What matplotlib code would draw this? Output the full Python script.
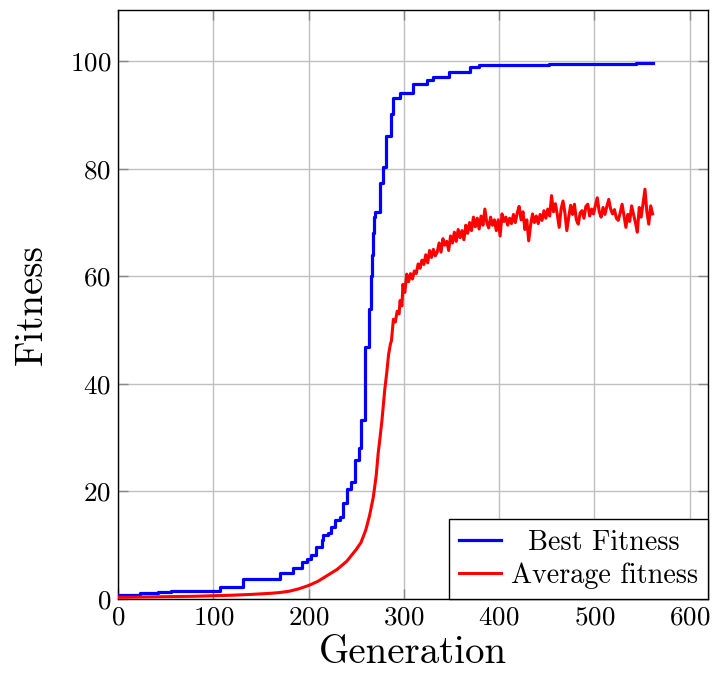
import matplotlib
matplotlib.use("Agg")
import matplotlib.pyplot as plt

# ---------------- data ----------------
best_gen = [0, 23, 42, 56, 107, 131, 170, 184, 193, 198, 203, 208, 214, 215, 220,
            224, 228, 233, 236, 240, 245, 249, 253, 255, 259, 263, 265, 267, 268,
            269, 270, 275, 278, 281, 286, 289, 296, 310, 324, 331, 347, 369, 379,
            452, 502, 544, 561]
best_val = [0.7, 1.05, 1.25, 1.55, 2.2, 3.7, 4.8, 5.7, 6.9, 7.5, 8.2, 9.7, 10.9, 11.9, 12.3,
            13.4, 14.7, 15.3, 17.8, 20.5, 21.8, 25.8, 28.0, 33.2, 46.9, 54.0, 60.0, 64.0, 68.0,
            71.0, 72.0, 77.3, 80.4, 86.0, 90.1, 93.2, 94.0, 95.8, 96.5, 97.0, 97.9, 98.9, 99.3,
            99.4, 99.55, 99.7, 99.7]

avg_gen = [0, 20, 40, 60, 80, 100, 120, 140, 150, 160, 170, 180, 190, 200, 210, 220, 230,
           240, 250, 255, 260, 264, 268, 271, 273, 275, 277, 280, 282, 284, 286, 287, 289,
           291, 293, 295, 296, 298, 299, 301, 303, 305, 307, 309, 311, 313, 315, 317, 319,
           321, 323, 325, 327, 329, 331, 333, 335, 337, 339, 341, 343, 345, 347, 349, 351,
           353, 355, 357, 359, 361, 363, 365, 367, 369, 371, 373, 375, 377, 379, 381, 383,
           385, 387, 389, 391, 393, 395, 397, 399, 401, 403, 405, 407, 409, 411, 413, 415,
           417, 419, 421, 423, 425, 427, 429, 431, 433, 435, 437, 439, 441, 443, 445, 447,
           449, 451, 453, 455, 457, 459, 461, 463, 465, 467, 469, 471, 473, 475, 477, 479,
           481, 483, 485, 487, 489, 491, 493, 495, 497, 499, 501, 503, 505, 507, 509, 511,
           513, 515, 517, 519, 521, 523, 525, 527, 529, 531, 533, 535, 537, 539, 541, 543,
           545, 547, 549, 551, 553, 555, 557, 559, 561]
avg_val = [0.3, 0.35, 0.4, 0.45, 0.5, 0.6, 0.7, 0.85, 0.95, 1.05, 1.2, 1.45, 1.9, 2.5, 3.3,
           4.4, 5.5, 7.0, 9.2, 10.5, 12.8, 15.5, 19.0, 23.0, 27.0, 30.0, 33.2, 39.0, 42.0, 45.5,
           47.5, 48.0, 52.0, 51.5, 53.5, 53.0, 55.5, 54.5, 58.5, 57.0, 60.4, 59.0, 60.5, 59.5,
           61.0, 60.5, 62.3, 61.5, 63.0, 62.2, 64.0, 62.5, 64.8, 63.5, 65.0, 63.8, 64.5, 66.2,
           64.5, 67.0, 65.8, 66.5, 64.8, 67.5, 66.2, 68.2, 66.5, 68.7, 67.2, 68.5, 66.8, 69.5,
           68.0, 70.0, 68.5, 71.0, 69.2, 70.8, 68.8, 71.2, 69.5, 72.5, 70.0, 69.0, 71.0, 69.5,
           70.5, 68.5, 70.5, 67.5, 71.6, 70.2, 71.0, 69.5, 70.8, 69.8, 71.5, 70.0, 71.8, 73.0,
           70.5, 72.0, 68.7, 70.5, 66.6, 69.5, 71.6, 70.0, 71.2, 69.8, 71.5, 70.4, 72.2, 70.8,
           72.5, 71.2, 75.0, 72.0, 73.5, 71.5, 69.1, 72.5, 74.0, 71.8, 68.5, 71.0, 73.2, 71.5,
           73.4, 70.5, 69.7, 71.8, 72.2, 70.8, 73.0, 73.4, 71.2, 72.5, 71.6, 73.2, 74.6, 72.0,
           71.0, 72.8, 71.5, 73.0, 74.3, 72.5, 71.6, 72.4, 70.8, 70.4, 71.8, 73.4, 71.2, 69.1,
           71.5, 70.2, 73.1, 71.5, 70.0, 68.2, 72.8, 71.0, 73.5, 76.2, 72.0, 69.7, 73.1, 71.6]

x_ticks = [0, 100, 200, 300, 400, 500, 600]
y_ticks = [0, 20, 40, 60, 80, 100]
labels = ["Best Fitness", "Average fitness"]

# ---------------- plot ----------------
plt.rcParams["font.family"] = ["cmr10", "DejaVu Serif"]
plt.rcParams["axes.formatter.use_mathtext"] = True
plt.rcParams["mathtext.fontset"] = "cm"

fig = plt.figure(figsize=(7.15, 6.73), dpi=100)
ax = fig.add_axes([0.165, 0.110, 0.825, 0.875])

ax.plot(best_gen, best_val, drawstyle="steps-post", color="#0000ff", lw=2.3,
        label=labels[0], zorder=3)
ax.plot(avg_gen, avg_val, color="#ff0000", lw=2.2, label=labels[1], zorder=3)

ax.set_xlim(0, 619)
ax.set_ylim(0, 109.5)
ax.set_xticks(x_ticks)
ax.set_yticks(y_ticks)
ax.grid(True, color="#c0c0c0", lw=1.0)
ax.set_axisbelow(True)
ax.tick_params(direction="in", length=7, width=1.0, color="#888888",
               top=True, right=True, labelsize=19.5, pad=5)
for s in ax.spines.values():
    s.set_linewidth(1.0)
    s.set_color("black")

ax.set_xlabel("Generation", fontsize=28, labelpad=4)
ax.set_ylabel("Fitness", fontsize=28, labelpad=14)

leg = ax.legend(loc="lower right", borderaxespad=0, fontsize=20.3, fancybox=False,
                edgecolor="black", framealpha=1, handlelength=1.5,
                handletextpad=0.35, borderpad=0.35, labelspacing=0.25)
leg.get_frame().set_linewidth(1.0)
# centre the shorter entry text like the reference
try:
    entries = leg._legend_handle_box.get_children()[0].get_children()
    entries[0].sep += 12
except Exception:
    pass

fig.savefig("out.png", dpi=100)
